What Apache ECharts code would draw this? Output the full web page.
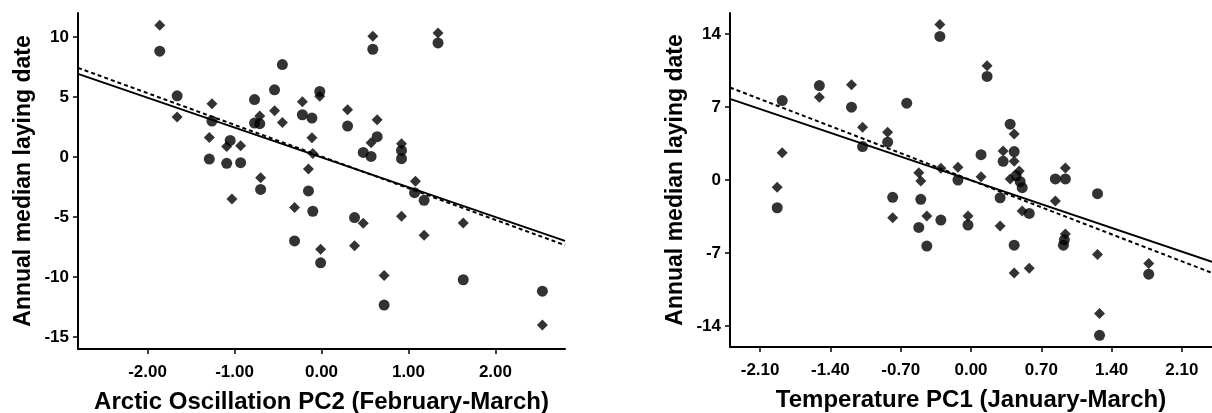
<!DOCTYPE html>
<html>
<head>
<meta charset="utf-8">
<script src="https://cdn.jsdelivr.net/npm/echarts@6/dist/echarts.min.js"></script>
<style>
    html, body { margin: 0; padding: 0; background: #fff; }
    #main { width: 1212px; height: 413px; }
</style>
</head>
<body>
<div id="main"></div>
<script>
// left panel: Arctic Oscillation PC2 (February-March)
const aoCircles = [
    [-1.86, 8.82], [-1.66, 5.1], [-1.26, 3.0], [-1.29, -0.17], [-1.05, 1.38],
    [-1.09, -0.53], [-0.93, -0.47], [-0.77, 4.79], [-0.77, 2.83], [-0.71, 2.78],
    [-0.70, -2.7], [-0.54, 5.6], [-0.45, 7.7], [-0.31, -6.99], [-0.22, 3.52],
    [-0.11, 3.24], [-0.02, 5.46], [0.30, 2.58], [0.59, 8.98], [0.64, 1.69],
    [0.48, 0.38], [0.57, 0.05], [0.92, 0.55], [0.92, -0.14], [1.34, 9.51],
    [1.07, -2.97], [1.18, -3.61], [-0.15, -2.83], [-0.10, -4.52], [-0.01, -8.82],
    [0.38, -5.05], [0.72, -12.34], [1.63, -10.23], [2.54, -11.18],
];
const aoDiamonds = [
    [-1.86, 10.98], [-1.66, 3.33], [-1.26, 4.43], [-1.29, 1.63], [-1.09, 0.88],
    [-0.93, 0.94], [-1.03, -3.5], [-0.71, 3.41], [-0.70, -1.72], [-0.54, 3.85],
    [-0.45, 2.88], [-0.31, -4.2], [-0.22, 4.6], [-0.11, 1.6], [-0.10, 0.3],
    [-0.15, -1.0], [-0.02, 5.07], [0.30, 3.93], [0.59, 10.06], [0.64, 3.1],
    [0.57, 1.19], [0.92, 1.1], [1.34, 10.34], [1.08, -2.03], [-0.01, -7.69],
    [0.48, -5.52], [0.38, -7.4], [0.72, -9.88], [0.92, -4.94], [1.18, -6.52],
    [1.63, -5.49], [2.54, -14.01],
];
const aoFitX = [-2.8, 2.8];
const aoFitSolid = [6.93, -6.99];
const aoFitDashed = [7.43, -7.35];
const aoTicksX = [-2, -1, 0, 1, 2];
const aoTicksY = [-15, -10, -5, 0, 5, 10];

// right panel: Temperature PC1 (January-March)
const tempCircles = [
    [-0.31, 13.75], [-1.51, 9.05], [-1.19, 6.98], [-1.88, 7.61], [-1.93, -2.66],
    [-0.64, 7.36], [-1.08, 3.2], [-0.83, 3.62], [-0.50, -1.85], [-0.78, -1.66],
    [-0.52, -4.54], [-0.44, -6.33], [-0.30, -3.84], [-0.13, 0.0], [-0.03, -4.32],
    [0.16, 9.92], [0.39, 5.35], [0.43, 2.72], [0.32, 1.79], [0.10, 2.43],
    [0.84, 0.1], [0.94, 0.1], [1.26, -1.31], [0.29, -1.7], [0.49, -0.16],
    [0.51, -0.74], [0.58, -3.2], [0.43, -6.24], [0.92, -6.24], [0.93, -5.73],
    [1.28, -14.88], [1.77, -9.02], [0.45, 0.4],
];
const tempDiamonds = [
    [-0.31, 14.9], [-1.51, 7.94], [-1.19, 9.12], [-1.88, 2.62], [-1.93, -0.7],
    [-1.08, 5.06], [-0.83, 4.58], [-0.52, 0.7], [-0.50, -0.1], [-0.78, -3.62],
    [-0.44, -3.45], [-0.30, 1.12], [-0.13, 1.22], [-0.03, -3.45], [0.16, 10.94],
    [0.43, 4.41], [0.32, 2.78], [0.43, 1.79], [0.10, 0.32], [0.48, 0.86],
    [0.39, 0.1], [0.94, 1.15], [0.84, -2.02], [0.51, -2.98], [0.29, -4.41],
    [0.43, -8.9], [0.58, -8.45], [0.94, -5.18], [1.26, -7.13], [1.28, -12.79],
    [1.77, -8.0],
];
const tempFitX = [-2.4, 2.4];
const tempFitSolid = [7.77, -7.84];
const tempFitDashed = [8.86, -8.9];
const tempTicksX = [-2.1, -1.4, -0.7, 0, 0.7, 1.4, 2.1];
const tempTicksY = [-14, -7, 0, 7, 14];

const FONT = 'Liberation Sans';
const zip = (xs, ys) => xs.map((x, i) => [x, ys[i]]);

function xAxisFor(idx, name, min, max, ticks) {
    return {
        type: 'value', gridIndex: idx, min, max,
        name, nameLocation: 'middle', nameGap: 41,
        nameTextStyle: { fontFamily: FONT, fontWeight: 'bold', fontSize: 24, color: '#000' },
        splitLine: { show: false },
        axisLine: { onZero: false, lineStyle: { color: '#000', width: 2 } },
        axisTick: { customValues: ticks, length: 5, lineStyle: { color: '#000', width: 1.5 } },
        axisLabel: {
            customValues: ticks, margin: 15,
            fontFamily: FONT, fontWeight: 'bold', fontSize: 17, color: '#000',
            formatter: v => v.toFixed(2),
        },
    };
}

function yAxisFor(idx, min, max, ticks) {
    return {
        type: 'value', gridIndex: idx, min, max,
        name: 'Annual median laying date', nameLocation: 'middle', nameGap: 43,
        nameTextStyle: { fontFamily: FONT, fontWeight: 'bold', fontSize: 23, color: '#000' },
        splitLine: { show: false },
        axisLine: { onZero: false, lineStyle: { color: '#000', width: 2 } },
        axisTick: { customValues: ticks, length: 5, lineStyle: { color: '#000', width: 1.5 } },
        axisLabel: {
            customValues: ticks, margin: 9,
            fontFamily: FONT, fontWeight: 'bold', fontSize: 17, color: '#000',
        },
    };
}

function pointSeries(idx, data, symbol, size) {
    return {
        type: 'scatter', xAxisIndex: idx, yAxisIndex: idx,
        data, symbol, symbolSize: size,
        itemStyle: { color: '#000' },
        silent: true,
    };
}

function fitSeries(idx, xs, ys, dashed) {
    return {
        type: 'line', xAxisIndex: idx, yAxisIndex: idx,
        data: zip(xs, ys), showSymbol: false, symbol: 'none',
        lineStyle: { color: '#000', width: 2, type: dashed ? [4, 3] : 'solid' },
        silent: true, z: 1,
    };
}

const chart = echarts.init(document.getElementById('main'));
chart.setOption({
    animation: false,
    backgroundColor: '#fff',
    grid: [
        { left: 78, top: 13, width: 487, height: 336, outerBoundsMode: 'none' },
        { left: 730, top: 13, width: 482, height: 334, outerBoundsMode: 'none' },
    ],
    xAxis: [
        xAxisFor(0, 'Arctic Oscillation PC2 (February-March)', -2.8, 2.8, aoTicksX),
        xAxisFor(1, 'Temperature PC1 (January-March)', -2.4, 2.4, tempTicksX),
    ],
    yAxis: [
        yAxisFor(0, -16, 12, aoTicksY),
        yAxisFor(1, -16, 16, tempTicksY),
    ],
    series: [
        fitSeries(0, aoFitX, aoFitSolid, false),
        fitSeries(0, aoFitX, aoFitDashed, true),
        pointSeries(0, aoCircles, 'circle', 11),
        pointSeries(0, aoDiamonds, 'diamond', 11),
        fitSeries(1, tempFitX, tempFitSolid, false),
        fitSeries(1, tempFitX, tempFitDashed, true),
        pointSeries(1, tempCircles, 'circle', 11),
        pointSeries(1, tempDiamonds, 'diamond', 11),
    ],
});
</script>
</body>
</html>
